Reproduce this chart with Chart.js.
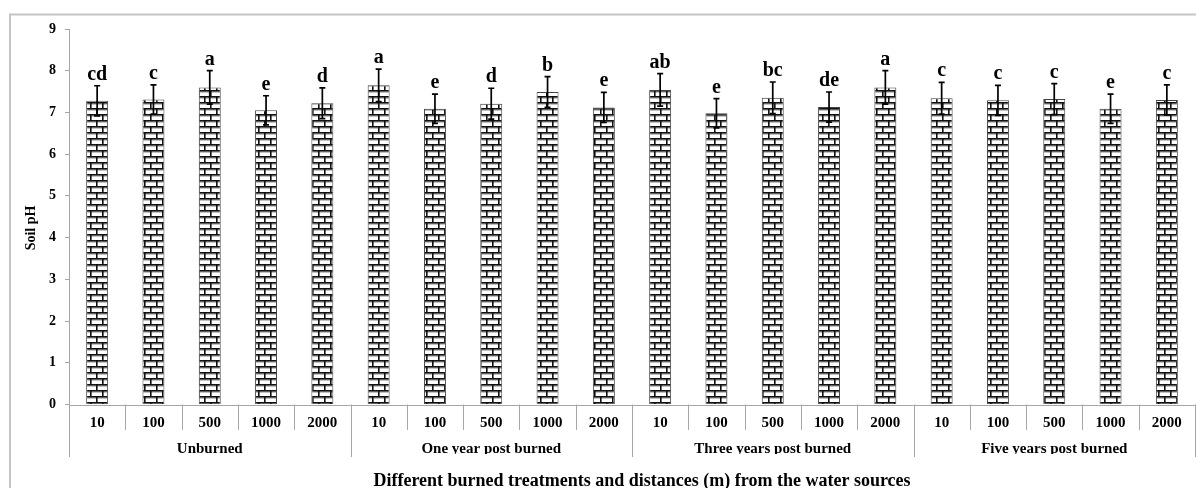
<!DOCTYPE html>
<html>
<head>
<meta charset="utf-8">
<script src="https://cdn.jsdelivr.net/npm/chart.js@4.4.1/dist/chart.umd.min.js"></script>
<style>
  html, body { margin: 0; padding: 0; background: #ffffff; }
  canvas { display: block; }
</style>
</head>
<body>
<canvas id="c" width="1196" height="488"></canvas>
<script>
// ---- Data ----
const groups = ["Unburned", "One year post burned", "Three years post burned", "Five years post burned"];
const distances = ["10", "100", "500", "1000", "2000"];
const phValues = [
  7.28, 7.31, 7.60, 7.05, 7.22,
  7.65, 7.09, 7.21, 7.49, 7.12,
  7.54, 6.98, 7.35, 7.13, 7.60,
  7.34, 7.29, 7.32, 7.09, 7.30
];
const phErrors = [
  0.36, 0.35, 0.40, 0.35, 0.37,
  0.39, 0.35, 0.37, 0.37, 0.36,
  0.39, 0.35, 0.38, 0.36, 0.40,
  0.38, 0.36, 0.37, 0.35, 0.36
];
const sigLetters = [
  "cd", "c", "a", "e", "d",
  "a", "e", "d", "b", "e",
  "ab", "e", "bc", "de", "a",
  "c", "c", "c", "e", "c"
];
const yTicks = [0, 1, 2, 3, 4, 5, 6, 7, 8, 9];
const yTitle = "Soil pH";
const xTitle = "Different burned treatments and distances (m) from the water sources";

// category labels built from the arrays above
const categories = [];
groups.forEach(g => distances.forEach(d => categories.push(d)));

const SERIF = "'Liberation Serif', 'Times New Roman', serif";
const AXIS_GRAY = "#a6a6a6";

// ---- Brick pattern ----
function brickPattern() {
  const t = document.createElement('canvas');
  t.width = 12; t.height = 12;
  const g = t.getContext('2d');
  g.fillStyle = '#ffffff';
  g.fillRect(0, 0, 12, 12);
  g.fillStyle = '#9a9a9a';
  g.fillRect(0, 1.6, 12, 1);
  g.fillRect(0, 7.6, 12, 1);
  g.fillStyle = '#111111';
  g.fillRect(0, 0, 12, 1.6);
  g.fillRect(0, 6, 12, 1.6);
  g.fillRect(0, 0, 1.6, 6);
  g.fillRect(6, 6, 1.6, 6);
  return g.createPattern(t, 'repeat');
}

// ---- Plugin: frame, axes decoration, error bars, letters, labels ----
const decor = {
  id: 'decor',
  beforeDraw(chart) {
    const ctx = chart.ctx;
    ctx.save();
    ctx.fillStyle = '#fff';
    ctx.fillRect(0, 0, chart.width, chart.height);
    ctx.strokeStyle = '#c4c4c4';
    ctx.lineWidth = 2;
    ctx.beginPath();
    ctx.moveTo(10, 488);
    ctx.lineTo(10, 14.5);
    ctx.lineTo(1196, 14.5);
    ctx.stroke();
    ctx.restore();
  },
  afterDatasetsDraw(chart) {
    const ctx = chart.ctx;
    const xs = chart.scales.x, ys = chart.scales.y;
    const meta = chart.getDatasetMeta(0);
    const area = chart.chartArea;
    ctx.save();
    // x axis line
    const y0 = ys.getPixelForValue(0);
    ctx.strokeStyle = AXIS_GRAY;
    ctx.lineWidth = 1;
    ctx.beginPath();
    ctx.moveTo(area.left, Math.round(y0) + 0.5);
    ctx.lineTo(area.right, Math.round(y0) + 0.5);
    ctx.stroke();

    // category dividers
    const n = categories.length;
    const step = xs.getPixelForValue(1) - xs.getPixelForValue(0);
    for (let i = 0; i <= n; i++) {
      const xb = (i < n) ? xs.getPixelForValue(i) - step / 2 : xs.getPixelForValue(n - 1) + step / 2;
      const isGroup = (i % distances.length === 0);
      ctx.beginPath();
      ctx.moveTo(Math.round(xb) + 0.5, y0);
      ctx.lineTo(Math.round(xb) + 0.5, isGroup ? 457 : 430);
      ctx.stroke();
    }

    // error bars
    ctx.strokeStyle = '#000';
    ctx.lineWidth = 1.7;
    meta.data.forEach((bar, i) => {
      const x = bar.x;
      const yt = ys.getPixelForValue(phValues[i] + phErrors[i]);
      const yb = ys.getPixelForValue(phValues[i] - phErrors[i]);
      ctx.beginPath();
      ctx.moveTo(x, yt); ctx.lineTo(x, yb);
      ctx.moveTo(x - 3, yt); ctx.lineTo(x + 3, yt);
      ctx.moveTo(x - 3, yb); ctx.lineTo(x + 3, yb);
      ctx.stroke();
      // letters
      ctx.fillStyle = '#000';
      ctx.font = "bold 20px " + SERIF;
      ctx.textAlign = 'center';
      ctx.textBaseline = 'alphabetic';
      ctx.fillText(sigLetters[i], x, yt - 6);
    });

    // distance labels
    ctx.font = "bold 15px " + SERIF;
    ctx.textBaseline = 'middle';
    ctx.textAlign = 'center';
    meta.data.forEach((bar, i) => {
      ctx.fillText(categories[i], bar.x, 423);
    });

    // group labels (clipped like the original)
    ctx.save();
    ctx.beginPath();
    ctx.rect(0, 436, chart.width, 18);
    ctx.clip();
    ctx.font = "bold 15px " + SERIF;
    groups.forEach((g, gi) => {
      const a = meta.data[gi * distances.length].x;
      const b = meta.data[gi * distances.length + distances.length - 1].x;
      ctx.fillText(g, (a + b) / 2, 449);
    });
    ctx.restore();

    // x title
    ctx.font = "bold 18px " + SERIF;
    ctx.textBaseline = 'alphabetic';
    ctx.fillText(xTitle, 642, 486);

    // y title
    ctx.save();
    ctx.translate(31, 228);
    ctx.rotate(-Math.PI / 2);
    ctx.font = "bold 14px " + SERIF;
    ctx.textBaseline = 'middle';
    ctx.fillText(yTitle, 0, 0);
    ctx.restore();

    ctx.restore();
  }
};

new Chart(document.getElementById('c'), {
  type: 'bar',
  data: {
    labels: categories,
    datasets: [{
      data: phValues,
      backgroundColor: brickPattern(),
      borderColor: '#444444',
      borderWidth: 1,
      barPercentage: 0.39,
      categoryPercentage: 1.0
    }]
  },
  options: {
    responsive: false,
    animation: false,
    devicePixelRatio: 1,
    layout: { padding: { left: 10, right: 1, top: 29, bottom: 83.5 } },
    plugins: { legend: { display: false }, tooltip: { enabled: false } },
    scales: {
      x: { display: false },
      y: {
        min: 0, max: 9,
        afterFit(scale) { scale.width = 59; },
        afterBuildTicks(scale) { scale.ticks = yTicks.map(v => ({ value: v })); },
        border: { display: true, color: AXIS_GRAY, width: 1 },
        grid: { drawOnChartArea: false, drawTicks: true, tickLength: 4, color: AXIS_GRAY },
        ticks: {
          padding: 9,
          color: '#000',
          font: { family: SERIF, weight: 'bold', size: 14 }
        }
      }
    }
  },
  plugins: [decor]
});
</script>
</body>
</html>
